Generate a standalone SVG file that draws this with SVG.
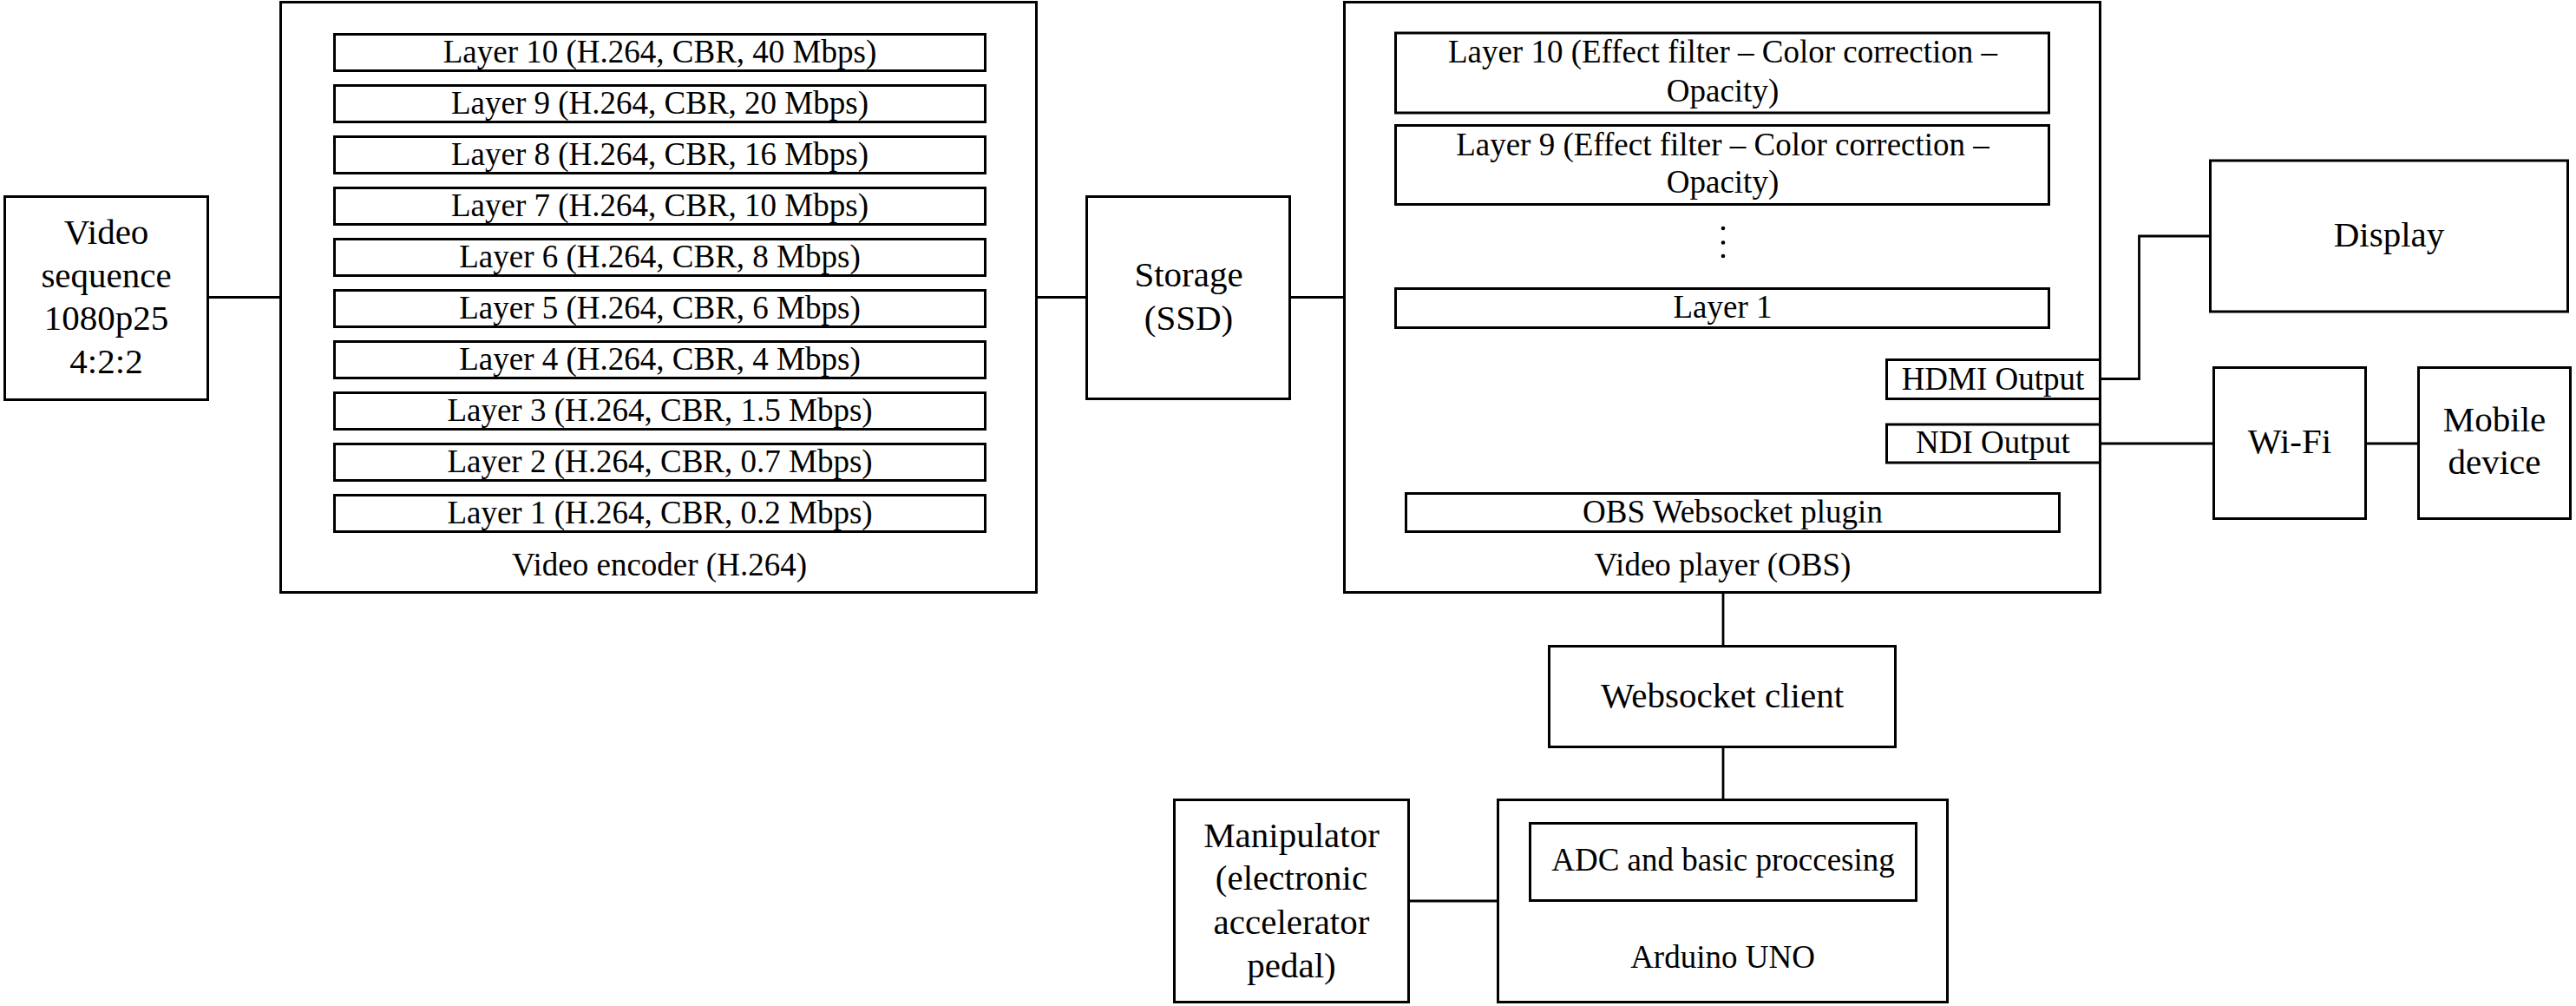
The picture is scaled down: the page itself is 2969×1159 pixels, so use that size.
<svg xmlns="http://www.w3.org/2000/svg" width="2969" height="1159" viewBox="0 0 2969 1159">
<style>
.b{fill:#fff;stroke:#000;stroke-width:3}
.i{fill:none;stroke:#000;stroke-width:3}
.c{fill:none;stroke:#000;stroke-width:2.8}
text{font-family:"Liberation Serif","Times New Roman",serif;fill:#000;text-anchor:middle}
.L{font-size:41px}
.s{font-size:37px}
</style>
<rect width="2969" height="1159" fill="#fff"/>
<g id="connectors">
<line class="c" x1="241" y1="342.5" x2="322" y2="342.5"/>
<line class="c" x1="1196" y1="342.5" x2="1251" y2="342.5"/>
<line class="c" x1="1488" y1="342.5" x2="1548" y2="342.5"/>
<polyline class="c" points="2421,436.5 2465.5,436.5 2465.5,272 2546,272"/>
<line class="c" x1="2421" y1="511" x2="2550" y2="511"/>
<line class="c" x1="2728" y1="511" x2="2786" y2="511"/>
<line class="c" x1="1986" y1="684" x2="1986" y2="743"/>
<line class="c" x1="1986" y1="862" x2="1986" y2="920"/>
<line class="c" x1="1625" y1="1038" x2="1725" y2="1038"/>
</g>
<g id="video-sequence">
<rect class="b" x="5.5" y="226.5" width="234" height="234"/>
<text class="L" x="122.5" y="281">Video</text>
<text class="L" x="122.5" y="331">sequence</text>
<text class="L" x="122.5" y="380">1080p25</text>
<text class="L" x="122.5" y="430">4:2:2</text>
</g>
<g id="video-encoder">
<rect class="b" x="323.5" y="2.5" width="871" height="680"/>
<rect class="i" x="385.5" y="39.5" width="750" height="42"/>
<rect class="i" x="385.5" y="98.5" width="750" height="42"/>
<rect class="i" x="385.5" y="157.5" width="750" height="42"/>
<rect class="i" x="385.5" y="216.5" width="750" height="42"/>
<rect class="i" x="385.5" y="275.5" width="750" height="42"/>
<rect class="i" x="385.5" y="334.5" width="750" height="42"/>
<rect class="i" x="385.5" y="393.5" width="750" height="42"/>
<rect class="i" x="385.5" y="452.5" width="750" height="42"/>
<rect class="i" x="385.5" y="511.5" width="750" height="42"/>
<rect class="i" x="385.5" y="570.5" width="750" height="42"/>
<text class="s" x="760.5" y="72">Layer 10 (H.264, CBR, 40 Mbps)</text>
<text class="s" x="760.5" y="131">Layer 9 (H.264, CBR, 20 Mbps)</text>
<text class="s" x="760.5" y="190">Layer 8 (H.264, CBR, 16 Mbps)</text>
<text class="s" x="760.5" y="249">Layer 7 (H.264, CBR, 10 Mbps)</text>
<text class="s" x="760.5" y="308">Layer 6 (H.264, CBR, 8 Mbps)</text>
<text class="s" x="760.5" y="367">Layer 5 (H.264, CBR, 6 Mbps)</text>
<text class="s" x="760.5" y="426">Layer 4 (H.264, CBR, 4 Mbps)</text>
<text class="s" x="760.5" y="485">Layer 3 (H.264, CBR, 1.5 Mbps)</text>
<text class="s" x="760.5" y="544">Layer 2 (H.264, CBR, 0.7 Mbps)</text>
<text class="s" x="760.5" y="603">Layer 1 (H.264, CBR, 0.2 Mbps)</text>
<text class="s" x="760" y="663">Video encoder (H.264)</text>
</g>
<g id="storage">
<rect class="b" x="1252.5" y="226.5" width="234" height="233"/>
<text class="L" x="1370" y="330">Storage</text>
<text class="L" x="1370" y="380">(SSD)</text>
</g>
<g id="video-player">
<rect class="b" x="1549.5" y="2.5" width="871" height="680"/>
<rect class="i" x="1608.5" y="38" width="753" height="92"/>
<text class="s" x="1985.5" y="72">Layer 10 (Effect filter – Color correction –</text>
<text class="s" x="1985.5" y="117">Opacity)</text>
<rect class="i" x="1608.5" y="144.5" width="753" height="91"/>
<text class="s" x="1985.5" y="179">Layer 9 (Effect filter – Color correction –</text>
<text class="s" x="1985.5" y="222">Opacity)</text>
<circle cx="1986" cy="263" r="2.3"/>
<circle cx="1986" cy="279.5" r="2.3"/>
<circle cx="1986" cy="295" r="2.3"/>
<rect class="i" x="1608.5" y="332.5" width="753" height="45"/>
<text class="s" x="1985.5" y="366">Layer 1</text>
<rect class="i" x="2174.5" y="414.5" width="246" height="45"/>
<text class="s" x="2297" y="449">HDMI Output</text>
<rect class="i" x="2174.5" y="489" width="246" height="44"/>
<text class="s" x="2297" y="521.5">NDI Output</text>
<rect class="i" x="1620.5" y="568.5" width="753" height="44"/>
<text class="s" x="1997" y="602">OBS Websocket plugin</text>
<text class="s" x="1985.5" y="663">Video player (OBS)</text>
</g>
<g id="display">
<rect class="b" x="2547.5" y="185" width="412" height="174"/>
<text class="L" x="2753.5" y="284">Display</text>
</g>
<g id="wifi">
<rect class="b" x="2551.5" y="423.5" width="175" height="174"/>
<text class="L" x="2639" y="522">Wi-Fi</text>
</g>
<g id="mobile-device">
<rect class="b" x="2787.5" y="423.5" width="175" height="174"/>
<text class="L" x="2875" y="497">Mobile</text>
<text class="L" x="2875" y="546">device</text>
</g>
<g id="websocket-client">
<rect class="b" x="1785.5" y="744.5" width="399" height="116"/>
<text class="L" x="1985" y="815">Websocket client</text>
</g>
<g id="arduino-uno">
<rect class="b" x="1726.5" y="921.5" width="518" height="233"/>
<rect class="i" x="1763.5" y="948.5" width="445" height="89"/>
<text class="s" x="1986" y="1003">ADC and basic proccesing</text>
<text class="s" x="1985.5" y="1115">Arduino UNO</text>
</g>
<g id="manipulator">
<rect class="b" x="1353.5" y="921.5" width="270" height="233"/>
<text class="L" x="1488.5" y="976">Manipulator</text>
<text class="L" x="1488.5" y="1025">(electronic</text>
<text class="L" x="1488.5" y="1076">accelerator</text>
<text class="L" x="1488.5" y="1126">pedal)</text>
</g>
</svg>
